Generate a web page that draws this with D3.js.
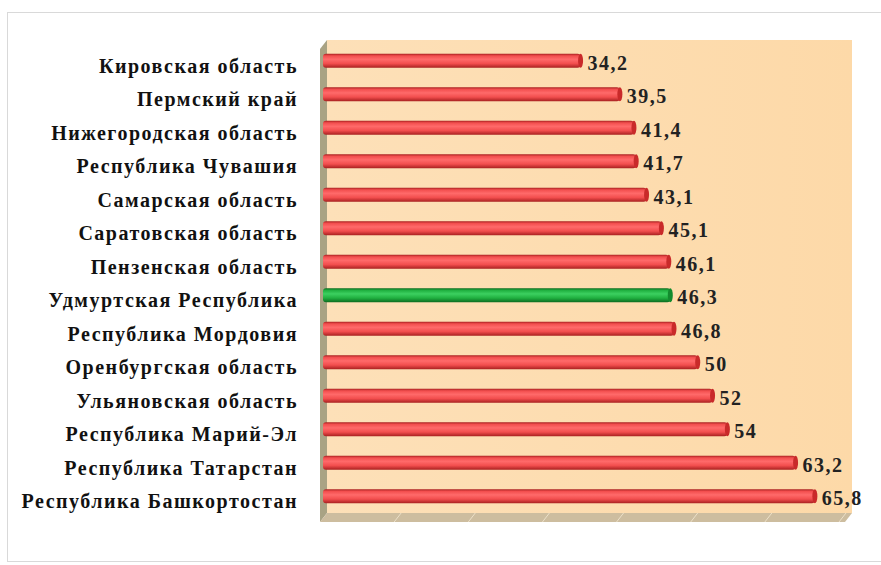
<!DOCTYPE html>
<meta charset="utf-8">
<script src="https://d3js.org/d3.v7.min.js"></script>
<style>
  body { margin: 0; background: #fff; }
</style>
<div id="chart"></div>
<script>
const regions = [
  "Кировская область", "Пермский край", "Нижегородская область", "Республика Чувашия",
  "Самарская область", "Саратовская область", "Пензенская область", "Удмуртская Республика",
  "Республика Мордовия", "Оренбургская область", "Ульяновская область", "Республика Марий-Эл",
  "Республика Татарстан", "Республика Башкортостан"
];
const values = [34.2, 39.5, 41.4, 41.7, 43.1, 45.1, 46.1, 46.3, 46.8, 50, 52, 54, 63.2, 65.8];
const valueLabels = ["34,2", "39,5", "41,4", "41,7", "43,1", "45,1", "46,1", "46,3", "46,8", "50", "52", "54", "63,2", "65,8"];
const highlight = "Удмуртская Республика";
const gridTicks = [0, 10, 20, 30, 40, 50, 60, 70];

const W = 881, H = 565;
const svg = d3.select("#chart").append("svg")
  .attr("width", W).attr("height", H);

// outer frame
svg.append("rect")
  .attr("x", 7.5).attr("y", 12.5).attr("width", W - 6).attr("height", 549)
  .attr("fill", "#fff").attr("stroke", "#d9d9d9");

const defs = svg.append("defs");
function barGrad(id, light, mid, dark) {
  const g = defs.append("linearGradient").attr("id", id)
    .attr("x1", 0).attr("y1", 0).attr("x2", 0).attr("y2", 1);
  g.append("stop").attr("offset", "0%").attr("stop-color", dark);
  g.append("stop").attr("offset", "15%").attr("stop-color", mid);
  g.append("stop").attr("offset", "40%").attr("stop-color", light);
  g.append("stop").attr("offset", "70%").attr("stop-color", mid);
  g.append("stop").attr("offset", "100%").attr("stop-color", dark);
}
barGrad("red", "#ff6a6a", "#f24e4e", "#a82020");
barGrad("green", "#3cd060", "#20b040", "#0d6a20");

const wallG = defs.append("linearGradient").attr("id", "wall")
  .attr("x1", 0).attr("y1", 0).attr("x2", 1).attr("y2", 0);
wallG.append("stop").attr("offset", "0%").attr("stop-color", "#fde0b8");
wallG.append("stop").attr("offset", "100%").attr("stop-color", "#fdd9a8");

const x = d3.scaleLinear().domain([0, 70]).range([327, 846]);
const y = d3.scaleBand().domain(regions).range([44, 513]);
const dx = -7, dy = 9;
const wallTop = 40, wallBottom = 513, wallRight = 852;

// back wall
svg.append("rect")
  .attr("x", x(0)).attr("y", wallTop)
  .attr("width", wallRight - x(0)).attr("height", wallBottom - wallTop)
  .attr("fill", "url(#wall)");

// left side wall
svg.append("polygon")
  .attr("points", [[x(0), wallTop], [x(0), wallBottom], [x(0) + dx, wallBottom + dy], [x(0) + dx, wallTop + dy]].join(" "))
  .attr("fill", "#a9a384");

// floor
svg.append("polygon")
  .attr("points", [[x(0), wallBottom], [wallRight, wallBottom], [wallRight + dx, wallBottom + dy], [x(0) + dx, wallBottom + dy]].join(" "))
  .attr("fill", "#cdbd9f");

svg.selectAll(".floorgrid")
  .data(gridTicks.slice(1))
  .join("line")
    .attr("x1", d => x(d)).attr("y1", wallBottom)
    .attr("x2", d => x(d) + dx).attr("y2", wallBottom + dy)
    .attr("stroke", "#ece0c8").attr("stroke-width", 1);

const font = "Liberation Serif, Times New Roman, serif";

// category labels
svg.selectAll(".cat")
  .data(regions)
  .join("text")
    .attr("x", 298)
    .attr("y", d => y(d) + y.bandwidth() / 2 + 5)
    .attr("dy", "0.35em")
    .attr("text-anchor", "end")
    .attr("font-family", font)
    .attr("font-weight", "bold")
    .attr("font-size", 20)
    .attr("letter-spacing", 1.5)
    .attr("fill", "#111")
    .text(d => d);

const bh = 14;
const data = regions.map((r, i) => ({ r, v: values[i], lbl: valueLabels[i] }));

// bars
svg.selectAll(".bar")
  .data(data)
  .join("rect")
    .attr("x", x(0) - 4)
    .attr("y", d => y(d.r) + y.bandwidth() / 2 - bh / 2)
    .attr("width", d => x(d.v) - x(0) + 4)
    .attr("height", bh)
    .attr("rx", 3)
    .attr("fill", d => d.r === highlight ? "url(#green)" : "url(#red)");

// bar end caps
svg.selectAll(".cap")
  .data(data)
  .join("ellipse")
    .attr("cx", d => x(d.v))
    .attr("cy", d => y(d.r) + y.bandwidth() / 2)
    .attr("rx", 2.5).attr("ry", bh / 2)
    .attr("fill", d => d.r === highlight ? "#138a2e" : "#c92a2a");

// value labels
svg.selectAll(".val")
  .data(data)
  .join("text")
    .attr("x", d => x(d.v) + 7)
    .attr("y", d => y(d.r) + y.bandwidth() / 2 + 2)
    .attr("dy", "0.35em")
    .attr("font-family", font)
    .attr("font-weight", "bold")
    .attr("font-size", 20)
    .attr("letter-spacing", 1.5)
    .attr("fill", "#222")
    .text(d => d.lbl);
</script>
